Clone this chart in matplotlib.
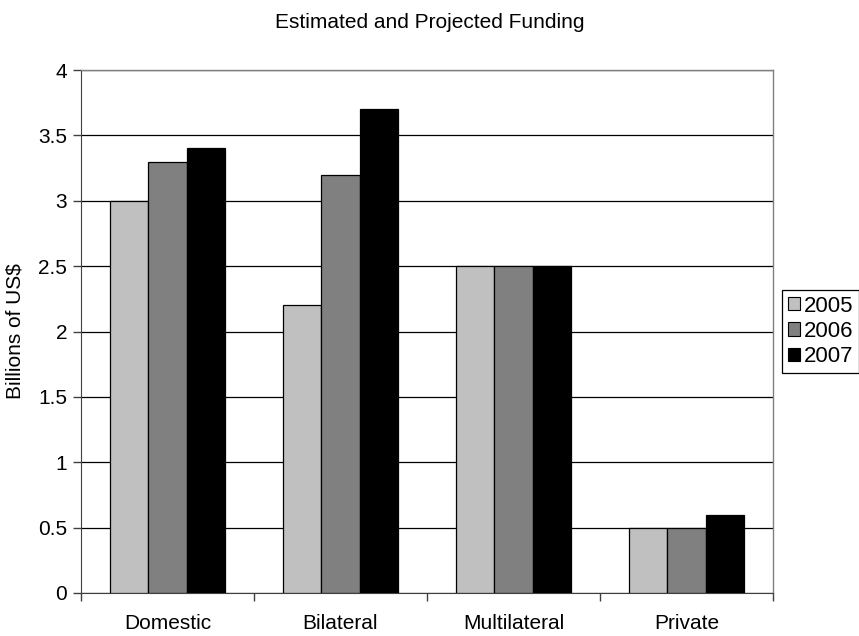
import matplotlib
matplotlib.use("Agg")
import matplotlib.pyplot as plt
import numpy as np

categories = ["Domestic", "Bilateral", "Multilateral", "Private"]
years = ["2005", "2006", "2007"]
funding_2005 = [3.0, 2.2, 2.5, 0.5]
funding_2006 = [3.3, 3.2, 2.5, 0.5]
funding_2007 = [3.4, 3.7, 2.5, 0.6]
series = [funding_2005, funding_2006, funding_2007]
colors = ["#C0C0C0", "#808080", "#000000"]
yticks = [0, 0.5, 1, 1.5, 2, 2.5, 3, 3.5, 4]
ytick_labels = ["0", "0.5", "1", "1.5", "2", "2.5", "3", "3.5", "4"]

plt.rcParams["font.family"] = ["Liberation Sans", "DejaVu Sans"]

fig = plt.figure(figsize=(8.59, 6.36), dpi=100)
ax = fig.add_axes([81 / 859, 43 / 636, 692 / 859, 523 / 636])

x = np.arange(len(categories))
width = 1 / 4.5
for k, (vals, col, yr) in enumerate(zip(series, colors, years)):
    ax.bar(x + (k - 1) * width, vals, width, color=col, edgecolor="black",
           linewidth=0.9, label=yr, zorder=3)

ax.set_xlim(-0.5, len(categories) - 0.5)
ax.set_ylim(0, 4)
ax.set_yticks(yticks)
ax.set_yticklabels(ytick_labels, fontsize=15)
ax.yaxis.grid(True, color="black", linewidth=0.9, zorder=0)
ax.set_axisbelow(True)

ax.set_xticks(x)
ax.set_xticklabels(categories, fontsize=15)
ax.tick_params(axis="x", which="major", length=0, pad=15)
ax.set_xticks(np.arange(-0.5, len(categories)), minor=True)
ax.tick_params(axis="x", which="minor", length=6, width=1, direction="out", color="#404040")
ax.tick_params(axis="y", length=6, width=1, direction="out", color="#404040", pad=4)

for side in ["top", "right"]:
    ax.spines[side].set_color("#808080")
    ax.spines[side].set_linewidth(1)
ax.spines["left"].set_color("#404040")
ax.spines["bottom"].set_color("#404040")

ax.set_ylabel("Billions of US$", fontsize=15, labelpad=10)
fig.text(0.5, 1 - 22 / 636, "Estimated and Projected Funding", ha="center",
         va="center", fontsize=15)

leg = ax.legend(loc="center left", bbox_to_anchor=(1.013, 0.5), fontsize=16,
                frameon=True, fancybox=False, edgecolor="black", framealpha=1,
                handlelength=0.55, handleheight=0.55, handletextpad=0.2,
                labelspacing=0.2, borderpad=0.25, borderaxespad=0)
leg.get_frame().set_linewidth(0.9)
for h in leg.legend_handles:
    h.set_linewidth(0.8)

fig.savefig("out.png", dpi=100)
